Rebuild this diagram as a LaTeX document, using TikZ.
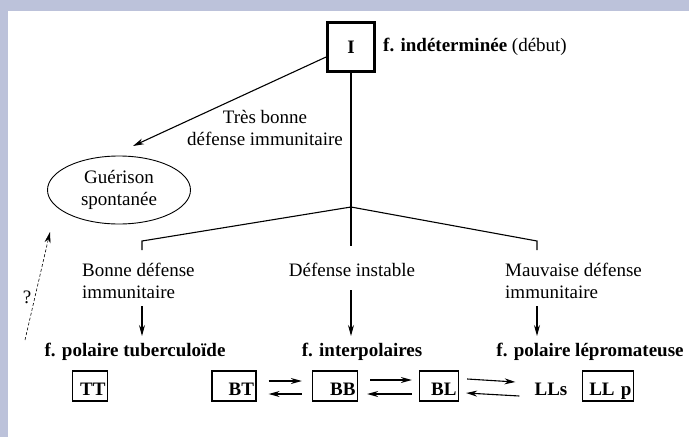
\documentclass[tikz,border=0pt]{standalone}
\usepackage{fontspec}
\setmainfont{Liberation Serif}
\usetikzlibrary{arrows.meta,shapes.geometric,calc}
\definecolor{band}{HTML}{BCC2DA}
\begin{document}
\begin{tikzpicture}[x=1pt,y=-1pt,
 every node/.style={font=\fontsize{19}{22}\selectfont, inner sep=0pt},
 lbl/.style={align=center},
 bold/.style={font=\fontsize{19}{22}\selectfont\bfseries},
 bx/.style={draw, line width=1.3pt, inner xsep=2pt, inner ysep=0pt, text height=24pt, text depth=6pt, align=right, font=\fontsize{19}{22}\selectfont\bfseries},
 ln/.style={line width=1.1pt},
 arr/.style={ln, -{Stealth[length=11pt,width=6pt]}},
 darr/.style={line width=0.6pt, densely dashed, -{Stealth[length=11pt,width=6pt]}},
]
\fill[band] (0,0) rectangle (689,437);
\fill[white] (8,11) rectangle (689,437);
\useasboundingbox (0,0) rectangle (689,437);

\node[draw, line width=2.8pt, minimum width=47pt, minimum height=49pt, bold] (I) at (351,47) {I};
\node[anchor=west] (ind) at (383,47) {\textbf{f. indéterminée} (début)};
\node[lbl] (tb) at (265,128) {Très bonne\\défense immunitaire};
\node[ellipse, draw, line width=0.9pt, minimum width=143pt, minimum height=68pt, align=center] (gs) at (119,190) {Guérison\\spontanée};

\coordinate (gt) at (133,146);
\draw[arr] ([yshift=-10pt]I.west) -- (gt);

\coordinate (j) at (351,207);
\coordinate (vb) at (351,246);
\coordinate (lb) at (142,241);
\coordinate (lbe) at (142,250);
\coordinate (rb) at (537,241);
\coordinate (rbe) at (537,250);
\draw[ln] (I.south) -- (j) -- (vb);
\draw[ln] (lbe) -- (lb) -- (j) -- (rb) -- (rbe);

\node[anchor=west, align=left] (bon) at (82,281) {Bonne défense\\immunitaire};
\node (ins) at (352,270) {Défense instable};
\node[anchor=west, align=left] (mau) at (505,281) {Mauvaise défense\\immunitaire};

\node[bold] (tub) at (135,352) {f. polaire tuberculoïde};
\node[bold] (int) at (362,352) {f. interpolaires};
\node[bold] (lep) at (590,352) {f. polaire lépromateuse};

\coordinate (a1) at (142,306); \coordinate (b1) at (142,336);
\coordinate (a2) at (351,290); \coordinate (b2) at (351,336);
\coordinate (a3) at (537,306); \coordinate (b3) at (537,336);
\draw[arr] (a1) -- (b1);
\draw[arr] (a2) -- (b2);
\draw[arr] (a3) -- (b3);

\node[bx, text width=31pt] (TT) at (90,386) {TT};
\node[bx, text width=40pt] (BT) at (234,386) {BT};
\node[bx, text width=41pt] (BB) at (335,386) {BB};
\node[bx, text width=35pt] (BL) at (439,386) {BL};
\node[bold] (LLs) at (551,389) {LLs};
\node[bx, text width=47pt] (LLp) at (608,386) {LL p};

\draw[arr] ($(BT.east)+(12,-5)$) -- ($(BB.west)+(-10,-5)$);
\draw[arr] ($(BB.west)+(-10,8)$) -- ($(BT.east)+(12,8)$);
\draw[arr] ($(BB.east)+(12,-6)$) -- ($(BL.west)+(-7,-6)$);
\draw[arr] ($(BL.west)+(-7,8)$) -- ($(BB.east)+(9,8)$);
\draw[arr] ($(BL.east)+(8,-7)$) -- ($(LLs.west)+(-19,-7)$);
\draw[arr] ($(LLs.west)+(-15,7)$) -- ($(BL.east)+(7,7)$);

\coordinate (q0) at (25,340);
\coordinate (q1) at (50,232);
\draw[darr] (q0) -- (q1);
\node (qm) at (27,297) {?};
\end{tikzpicture}
\end{document}
